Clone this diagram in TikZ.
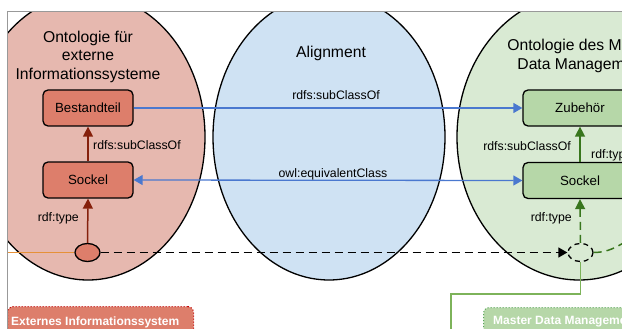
\documentclass[tikz,border=0pt]{standalone}
\usepackage{fontspec}
\setmainfont{Liberation Sans}
\usetikzlibrary{arrows.meta,shapes.geometric}
\definecolor{pinkell}{HTML}{E6B8AF}
\definecolor{blueell}{HTML}{CFE2F3}
\definecolor{greenell}{HTML}{D9EAD3}
\definecolor{salmon}{HTML}{DD7E6B}
\definecolor{lgreenbox}{HTML}{B6D7A8}
\definecolor{darkred}{HTML}{85200C}
\definecolor{darkgreen}{HTML}{38761D}
\definecolor{bluearrc}{HTML}{4A78CF}
\definecolor{orangec}{HTML}{E69138}
\definecolor{linegreen}{HTML}{7DB35A}
\definecolor{framec}{HTML}{999999}
\begin{document}
\begin{tikzpicture}[x=1pt,y=-1pt,
  bigell/.style={ellipse,draw=black,line width=1.3pt,minimum width=234pt,minimum height=286pt,inner sep=0pt},
  title/.style={align=center,font=\fontsize{15.7}{18.5}\selectfont},
  classbox/.style={draw=black,line width=1.3pt,rounded corners=5pt,minimum height=36pt,inner sep=0pt,font=\fontsize{13.3}{15}\selectfont},
  elabel/.style={font=\fontsize{12.3}{14}\selectfont,inner sep=0pt},
  redarr/.style={draw=darkred,line width=1.5pt,-{Triangle[length=10pt,width=10pt]}},
  greenarr/.style={draw=darkgreen,line width=1.5pt,-{Triangle[length=10pt,width=10pt]}},
  bluearr/.style={draw=bluearrc,line width=1.3pt,-{Triangle[length=9pt,width=10pt]}},
  sysbox/.style={rounded corners=6pt,line width=1pt,dotted,minimum height=36pt,inner sep=0pt},
  syslabel/.style={text=white,font=\bfseries\fontsize{12}{14}\selectfont,inner sep=0pt,anchor=west}
]
\useasboundingbox (0,0) rectangle (622,329);
\begin{scope}
\clip (7,12) rectangle (622,329);
% big ellipses
\node[bigell,fill=pinkell] (leftont) at (88,137) {};
\node[bigell,fill=blueell,minimum width=232pt] (align) at (329,137) {};
\node[bigell,fill=greenell,minimum width=244pt] (rightont) at (579,137) {};
% titles
\node[title] (lefttitle) at (88,56.5) {Ontologie für\\externe\\Informationssysteme};
\node[title] (aligntitle) at (331,53) {Alignment};
\node[title] (righttitle) at (582,56) {Ontologie des Master\\Data Management};
% class boxes
\node[classbox,fill=salmon,minimum width=90pt] (bestL) at (88,108) {Bestandteil};
\node[classbox,fill=salmon,minimum width=90pt] (sockL) at (88,180) {Sockel};
\node[classbox,fill=lgreenbox,minimum width=114pt] (zub) at (580,108) {Zubehör};
\node[classbox,fill=lgreenbox,minimum width=114pt] (sockR) at (580,180.5) {Sockel};
% instances
\node[ellipse,draw=black,line width=1.3pt,fill=salmon,minimum width=25pt,minimum height=18pt,inner sep=0pt] (instL) at (87.5,252.5) {};
\node[ellipse,draw=black,line width=1.3pt,dash pattern=on 5pt off 4pt,fill=greenell,minimum width=25pt,minimum height=18pt,inner sep=0pt] (instR) at (580.5,252.5) {};
% free ends
\coordinate (orgL) at (0,252.5);
\coordinate (offR) at (645,232);
\coordinate (bendA) at (451,294);
\coordinate (mdmEnd) at (451,340);
% connectors
\draw[orangec,line width=1.2pt] (orgL) -- (instL.west);
\draw[black,line width=1.5pt,dash pattern=on 8pt off 5pt,-{Triangle[length=9pt,width=10pt]}] (instL.east) -- (instR.west);
\draw[redarr] (sockL.north) -- (bestL.south);
\draw[redarr] (instL.north) -- (sockL.south);
\draw[bluearr] (bestL.east) -- (zub.west);
\draw[bluearr,{Triangle[length=9pt,width=10pt]}-{Triangle[length=9pt,width=10pt]}] (sockL.east) -- (sockR.west);
\draw[greenarr] (sockR.north) -- (zub.south);
\draw[greenarr,dash pattern=on 8pt off 5pt] (instR.north) -- (sockR.south);
\draw[darkgreen,line width=1.5pt,dash pattern=on 8pt off 5pt] (instR.east) to[out=0,in=200] (offR);
\draw[linegreen,line width=1.5pt] (instR.south) |- (bendA) -- (mdmEnd);
% edge labels
\node[elabel,anchor=west] (lblL1) at (93,145) {rdfs:subClassOf};
\node[elabel,anchor=east] (lblL2) at (79,218) {rdf:type};
\node[elabel] (lblC1) at (336,95) {rdfs:subClassOf};
\node[elabel] (lblC2) at (333,174) {owl:equivalentClass};
\node[elabel,anchor=east] (lblR1) at (571,146) {rdfs:subClassOf};
\node[elabel,anchor=east] (lblR2) at (572,218) {rdf:type};
\node[elabel,anchor=west] (lblR3) at (591,155.5) {rdf:type};
% system boxes
\node[sysbox,fill=salmon,draw=red!75!black,minimum width=186pt,anchor=north west] (extsys) at (7,306) {};
\node[syslabel] (extsyslbl) at (11,322.5) {Externes Informationssystem};
\node[sysbox,fill=lgreenbox,draw=gray!70!green,minimum width=170pt,anchor=north west] (mdmsys) at (483,307) {};
\node[syslabel] (mdmsyslbl) at (493,322) {Master Data Management};
\end{scope}
\draw[framec,line width=1pt] (7,329) -- (7,12) -- (622,12);
\end{tikzpicture}
\end{document}
